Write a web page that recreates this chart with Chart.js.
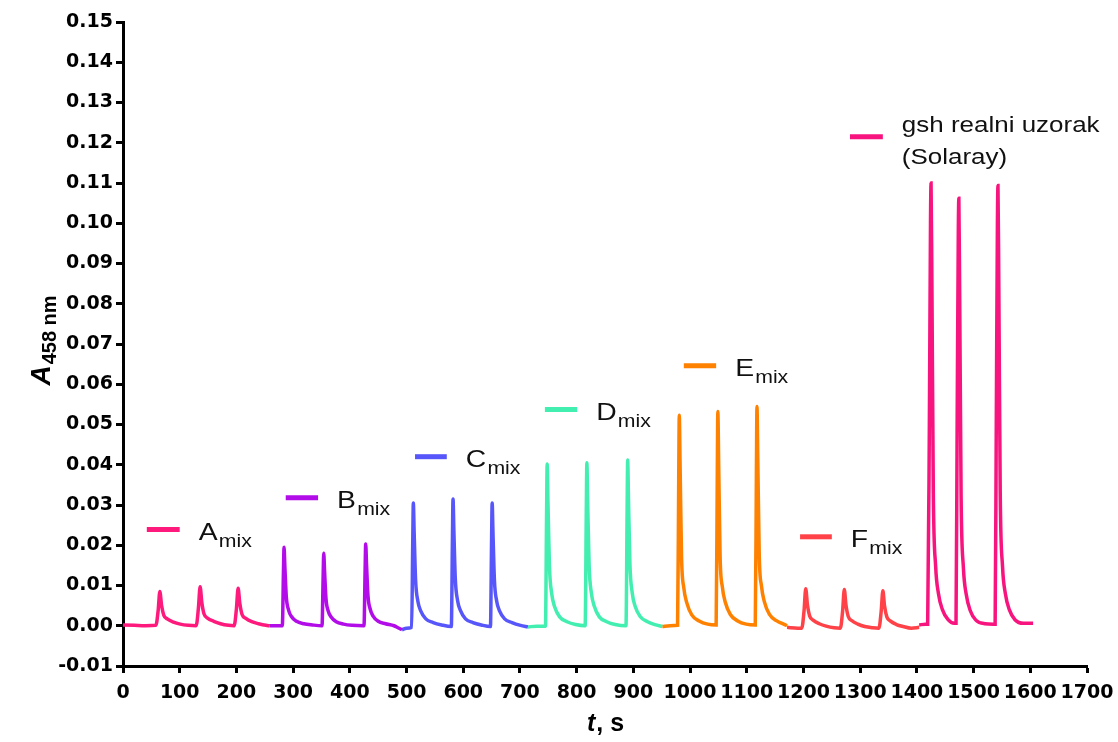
<!DOCTYPE html>
<html lang="sr">
<head>
    <meta charset="UTF-8">
    <title>A458 vs t</title>
    <script src="https://cdn.jsdelivr.net/npm/chart.js"></script>
    <style>
        body { margin: 0; background: #fff; }
    </style>
</head>
<body>
    <canvas id="myChart" width="1118" height="742"></canvas>

    <script>
        // time (s) / absorbance pairs
        const segA = [[0,0.0002],[20,0.0001],[40,0.0000],
            [58,0.0001],[62,0.0038],[65,0.0085],[68,0.0051],[72,0.0026],[78,0.0017],[89,0.0009],[101,0.0004],[115,0.0001],
            [129,0.0000],[133,0.0044],[136,0.0097],[139,0.0058],[143,0.0029],[149,0.0019],[160,0.0011],[172,0.0005],[186,0.0001],
            [196,0.0000],[200,0.0042],[203,0.0093],[206,0.0056],[210,0.0028],[216,0.0019],[227,0.0010],[239,0.0005],[252,0.0001],
            [259,0.0000]];
        const segB = [[259,0.0000],[270,0.0000],
            [281,0.0000],[283,0.0137],[284,0.0195],[285.5,0.0146],[288,0.0072],[292,0.0039],[297,0.0023],[306,0.0011],[319,0.0005],[334,0.0002],
            [351,0.0000],[353,0.0126],[354,0.0180],[355.5,0.0135],[358,0.0067],[362,0.0036],[367,0.0022],[376,0.0010],[389,0.0004],[404,0.0001],
            [425,0.0000],[427,0.0142],[428,0.0203],[429.5,0.0152],[432,0.0075],[436,0.0041],[441,0.0024],[450,0.0011],[463,0.0005],[478,0.0000],
            [485,-0.0005],[492,-0.0010]];
        const segC = [[492,-0.0010],[500,-0.0006],
            [509,-0.0004],[511,0.0212],[512,0.0305],[513.5,0.0229],[516,0.0113],[520,0.0061],[525,0.0037],[534,0.0017],[547,0.0008],[562,0.0002],
            [579,-0.0002],[581,0.0220],[582,0.0315],[583.5,0.0236],[586,0.0117],[590,0.0063],[595,0.0038],[604,0.0017],[617,0.0008],[632,0.0002],
            [648,-0.0002],[650,0.0213],[651,0.0305],[652.5,0.0229],[655,0.0113],[659,0.0061],[664,0.0037],[673,0.0017],[686,0.0008],[701,0.0001],
            [714,-0.0003]];
        const segD = [[714,-0.0003],[730,-0.0001],
            [745,-0.0001],[747,0.0281],[748,0.0402],[749.5,0.0302],[752,0.0149],[756,0.0080],[761,0.0048],[770,0.0022],[783,0.0010],[798,0.0003],
            [815,0.0000],[817,0.0284],[818,0.0405],[819.5,0.0304],[822,0.0150],[826,0.0081],[831,0.0049],[840,0.0022],[853,0.0010],[868,0.0003],
            [887,0.0000],[889,0.0288],[890,0.0412],[891.5,0.0309],[894,0.0152],[898,0.0082],[903,0.0049],[912,0.0023],[925,0.0010],[940,0.0002],
            [951,-0.0002]];
        const segE = [[951,-0.0002],[965,0.0000],
            [978,0.0001],[980,0.0366],[981,0.0523],[982.5,0.0392],[985,0.0170],[989,0.0094],[994,0.0058],[1003,0.0027],[1016,0.0012],[1031,0.0004],
            [1046,0.0002],[1048,0.0372],[1049,0.0532],[1050.5,0.0399],[1053,0.0172],[1057,0.0096],[1062,0.0059],[1071,0.0028],[1084,0.0012],[1099,0.0004],
            [1115,0.0002],[1117,0.0382],[1118,0.0545],[1119.5,0.0409],[1122,0.0176],[1126,0.0098],[1131,0.0060],[1140,0.0028],[1153,0.0012],[1165,0.0004],
            [1171,0.0000]];
        const segF = [[1171,-0.0004],[1190,-0.0006],
            [1197,-0.0006],[1201,0.0037],[1204,0.0092],[1207,0.0052],[1211,0.0024],[1217,0.0014],[1228,0.0005],[1240,-0.0001],[1254,-0.0005],
            [1265,-0.0006],[1269,0.0036],[1272,0.0090],[1275,0.0051],[1279,0.0023],[1285,0.0013],[1296,0.0004],[1308,-0.0002],[1322,-0.0005],
            [1333,-0.0006],[1337,0.0035],[1340,0.0087],[1343,0.0049],[1347,0.0022],[1353,0.0012],[1364,0.0003],[1376,-0.0002],[1390,-0.0006],
            [1404,-0.0004]];
        const segG = [[1404,0.0002],[1415,0.0004],
            [1419,0.0004],[1422,0.0500],[1424,0.1000],[1425,0.1100],[1426.5,0.0850],[1429,0.0330],[1433,0.0150],[1438,0.0080],[1445,0.0040],[1455,0.0015],[1466,0.0006],
            [1469,0.0006],[1471,0.0500],[1473,0.0970],[1474,0.1062],[1475.5,0.0820],[1478,0.0320],[1482,0.0145],[1487,0.0078],[1494,0.0038],[1504,0.0014],[1520,0.0005],[1535,0.0004],
            [1538,0.0004],[1540,0.0500],[1542,0.0995],[1543,0.1094],[1544.5,0.0845],[1547,0.0328],[1551,0.0148],[1556,0.0080],[1563,0.0040],[1573,0.0015],[1588,0.0006],
            [1605,0.0006]];

        const names = ['A', 'B', 'C', 'D', 'E', 'F', 'gsh realni uzorak|(Solaray)'];
        const segments = [segA, segB, segC, segD, segE, segF, segG];
        const colors = ['#fe1a7d', '#b20ce8', '#5656fa', '#42eeb0', '#ff8100', '#ff4248', '#f8147f'];
        // label key lines: [t start, t end, A level]
        const keyLines = [[42, 100, 0.0239], [287, 344, 0.0318], [515, 571, 0.0420], [744, 801, 0.0537],
            [989, 1046, 0.0646], [1194, 1250, 0.0221], [1282, 1340, 0.1215]];

        const tickFont = { family: 'DejaVu Sans', weight: 'bold', size: 19 };

        // series labels drawn next to their key lines, plus axis titles with sub/italics
        const labelsPlugin = {
            id: 'labels',
            afterDraw(chart) {
                const ctx = chart.ctx;
                const xs = chart.scales.x, ys = chart.scales.y;
                ctx.save();
                ctx.fillStyle = '#111';
                keyLines.forEach((k, i) => {
                    const x1 = xs.getPixelForValue(k[0]), x2 = xs.getPixelForValue(k[1]);
                    const y = ys.getPixelForValue(k[2]);
                    ctx.strokeStyle = colors[i];
                    ctx.lineWidth = 5;
                    ctx.beginPath();
                    ctx.moveTo(x1, y);
                    ctx.lineTo(x2, y);
                    ctx.stroke();

                    ctx.save();
                    ctx.translate(x2 + 19, y);
                    ctx.scale(1.18, 1);
                    ctx.textBaseline = 'alphabetic';
                    if (names[i].includes('|')) {
                        const lines = names[i].split('|');
                        ctx.font = '22px "Liberation Sans"';
                        ctx.fillText(lines[0], 0, -5);
                        ctx.fillText(lines[1], 0, 27);
                    } else {
                        ctx.font = '24px "Liberation Sans"';
                        ctx.fillText(names[i], 0, 10);
                        const w = ctx.measureText(names[i]).width;
                        ctx.font = '18px "Liberation Sans"';
                        ctx.fillText('mix', w + 1, 17);
                    }
                    ctx.restore();
                });

                // y title: A458 nm
                ctx.fillStyle = '#000';
                ctx.save();
                ctx.translate(50, 341);
                ctx.rotate(-Math.PI / 2);
                ctx.font = 'italic bold 28px "Liberation Sans"';
                const wA = ctx.measureText('A').width;
                ctx.font = 'bold 20px "Liberation Sans"';
                const wS = ctx.measureText('458 nm').width;
                const start = -(wA + wS) / 2;
                ctx.font = 'italic bold 28px "Liberation Sans"';
                ctx.fillText('A', start, 0);
                ctx.font = 'bold 20px "Liberation Sans"';
                ctx.fillText('458 nm', start + wA + 1, 6);
                ctx.restore();

                // x title: t, s
                ctx.font = 'italic bold 25px "Liberation Sans"';
                const wt = ctx.measureText('t').width;
                ctx.font = 'bold 25px "Liberation Sans"';
                const wr = ctx.measureText(', s').width;
                const cx = 605 - (wt + wr) / 2;
                ctx.font = 'italic bold 25px "Liberation Sans"';
                ctx.fillText('t', cx, 731);
                ctx.font = 'bold 25px "Liberation Sans"';
                ctx.fillText(', s', cx + wt + 1, 731);
                ctx.restore();
            }
        };

        const ctx = document.getElementById('myChart').getContext('2d');

        new Chart(ctx, {
            type: 'line',
            data: {
                datasets: segments.map((seg, i) => ({
                    label: names[i],
                    data: seg.map(p => ({ x: p[0], y: p[1] })),
                    borderColor: colors[i],
                    borderWidth: 3.5,
                    pointRadius: 0,
                    cubicInterpolationMode: 'monotone',
                    fill: false
                }))
            },
            options: {
                responsive: false,
                animation: false,
                layout: { padding: { left: 0, top: 22, right: 31, bottom: 0 } },
                scales: {
                    x: {
                        type: 'linear',
                        min: 0,
                        max: 1700,
                        afterFit: s => { s.height = 76; s.paddingLeft = 0; s.paddingRight = 0; },
                        ticks: {
                            stepSize: 100, color: '#000', font: tickFont, padding: 9, maxRotation: 0, autoSkip: false,
                            callback: v => String(v)
                        },
                        grid: { drawOnChartArea: false, tickLength: 7, tickWidth: 3, tickColor: '#000' },
                        border: { display: true, color: '#000', width: 3 }
                    },
                    y: {
                        min: -0.01,
                        max: 0.15,
                        afterFit: s => { s.width = 123; s.paddingTop = 0; s.paddingBottom = 0; },
                        ticks: {
                            stepSize: 0.01, color: '#000', font: tickFont, padding: 3, autoSkip: false,
                            callback: v => v.toFixed(2)
                        },
                        grid: { drawOnChartArea: false, tickLength: 7, tickWidth: 3, tickColor: '#000' },
                        border: { display: true, color: '#000', width: 3 }
                    }
                },
                plugins: {
                    legend: { display: false },
                    tooltip: { enabled: false }
                }
            },
            plugins: [labelsPlugin]
        });
    </script>
</body>
</html>
